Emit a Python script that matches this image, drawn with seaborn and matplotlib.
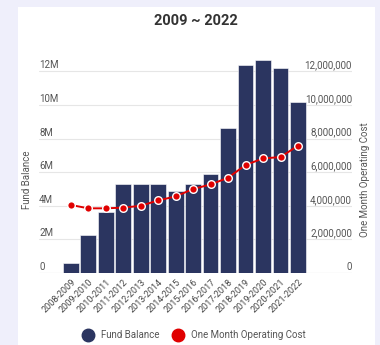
import matplotlib
matplotlib.use("Agg")
import matplotlib.pyplot as plt
from matplotlib.patches import Rectangle
from matplotlib.lines import Line2D
import seaborn as sns
import pandas as pd

#  Data 
periods = ["2008-2009", "2009-2010", "2010-2011", "2011-2012", "2012-2013",
           "2013-2014", "2014-2015", "2015-2016", "2016-2017", "2017-2018",
           "2018-2019", "2019-2020", "2020-2021", "2021-2022"]
fund_balance = [0.60e6, 2.28e6, 3.65e6, 5.27e6, 5.27e6, 5.27e6, 4.86e6,
                5.27e6, 5.89e6, 8.65e6, 12.38e6, 12.70e6, 12.18e6, 10.15e6]
month_cost = [4.05e6, 3.85e6, 3.85e6, 3.89e6, 4.00e6, 4.32e6, 4.56e6,
              5.00e6, 5.27e6, 5.67e6, 6.43e6, 6.82e6, 6.90e6, 7.58e6]
left_ticks = [0, 2e6, 4e6, 6e6, 8e6, 10e6, 12e6]
left_labels = ["0", "2M", "4M", "6M", "8M", "10M", "12M"]
right_labels = ["0", "2,000,000", "4,000,000", "6,000,000", "8,000,000",
                "10,000,000", "12,000,000"]

df = pd.DataFrame({"period": periods, "fund": fund_balance, "cost": month_cost})

BAR_COLOR  = "#2b3560"
LINE_COLOR = "#e00000"
TEXT_COLOR = "#555555"

sns.set_style("white")
plt.rcParams["font.family"] = ["Roboto", "DejaVu Sans"]

fig = plt.figure(figsize=(3.8, 3.45), dpi=100)
fig.patch.set_facecolor("#efeffb")
# white card
fig.patches.append(Rectangle((18 / 380, 0), (375 - 18) / 380, 1 - 7 / 345,
                             transform=fig.transFigure, facecolor="white",
                             edgecolor="none", zorder=-1))

# axes: x 39..352 px, y (zero line at 273) up to ~60
ax = fig.add_axes([39 / 380, 1 - 273 / 345, (352 - 39) / 380, (273 - 60) / 345])
ax.set_facecolor("none")
ax.set_zorder(2)

ymax = 12e6 + (273 - 60 - 201.6) / 16.8 * 1e6
sns.barplot(data=df, x="period", y="fund", color=BAR_COLOR, width=0.9,
            edgecolor="white", linewidth=0.4, saturation=1, ax=ax, zorder=2)
ax.plot(range(len(periods)), month_cost, color=LINE_COLOR, lw=1.4, zorder=4)
ax.scatter(range(len(periods)), month_cost, s=30, color=LINE_COLOR,
           edgecolor="white", linewidth=1.0, zorder=5)

ax.set_xlim(-1.82, 16.09)
ax.set_ylim(0, ymax)
ax.set_yticks([])
ax.set_xlabel("")
ax.set_ylabel("")
for s in ax.spines.values():
    s.set_visible(False)

# grid lines with labels sitting just above them
for v, ll, rl in zip(left_ticks, left_labels, right_labels):
    ax.axhline(v, color="#c8c8c8" if v == 0 else "#e6e6e6", lw=0.8, zorder=1)
    ax.text(0, v + 0.06e6, ll, transform=ax.get_yaxis_transform(),
            ha="left", va="bottom", fontsize=7, color=TEXT_COLOR)
    ax.text(1, v + 0.06e6, rl, transform=ax.get_yaxis_transform(),
            ha="right", va="bottom", fontsize=7, color=TEXT_COLOR)

ax.set_xticks(range(len(periods)))
ax.set_xticklabels(periods, rotation=45, ha="right", rotation_mode="anchor",
                   fontsize=6.5, color="#444444")
ax.tick_params(axis="x", length=0, pad=3)

fig.text(27 / 380, 1 - 180 / 345, "Fund Balance", rotation=90, ha="center",
         va="center", fontsize=7, color=TEXT_COLOR)
fig.text(365 / 380, 1 - 180 / 345, "One Month Operating Cost", rotation=90,
         ha="center", va="center", fontsize=7, color=TEXT_COLOR)
fig.text(196 / 380, 1 - 21 / 345, "2009 ~ 2022", ha="center", va="center",
         fontsize=10.5, fontweight="bold", color="#333333")

handles = [Line2D([], [], marker="o", ls="", markersize=9, color=BAR_COLOR),
           Line2D([], [], marker="o", ls="", markersize=9, color=LINE_COLOR)]
fig.legend(handles, ["Fund Balance", "One Month Operating Cost"], ncol=2,
           loc="center", bbox_to_anchor=(192 / 380, 1 - 335 / 345), frameon=False,
           fontsize=7, handletextpad=0.3, columnspacing=1.0,
           labelcolor=TEXT_COLOR)

plt.savefig("out.png", dpi=100)
plt.close()
